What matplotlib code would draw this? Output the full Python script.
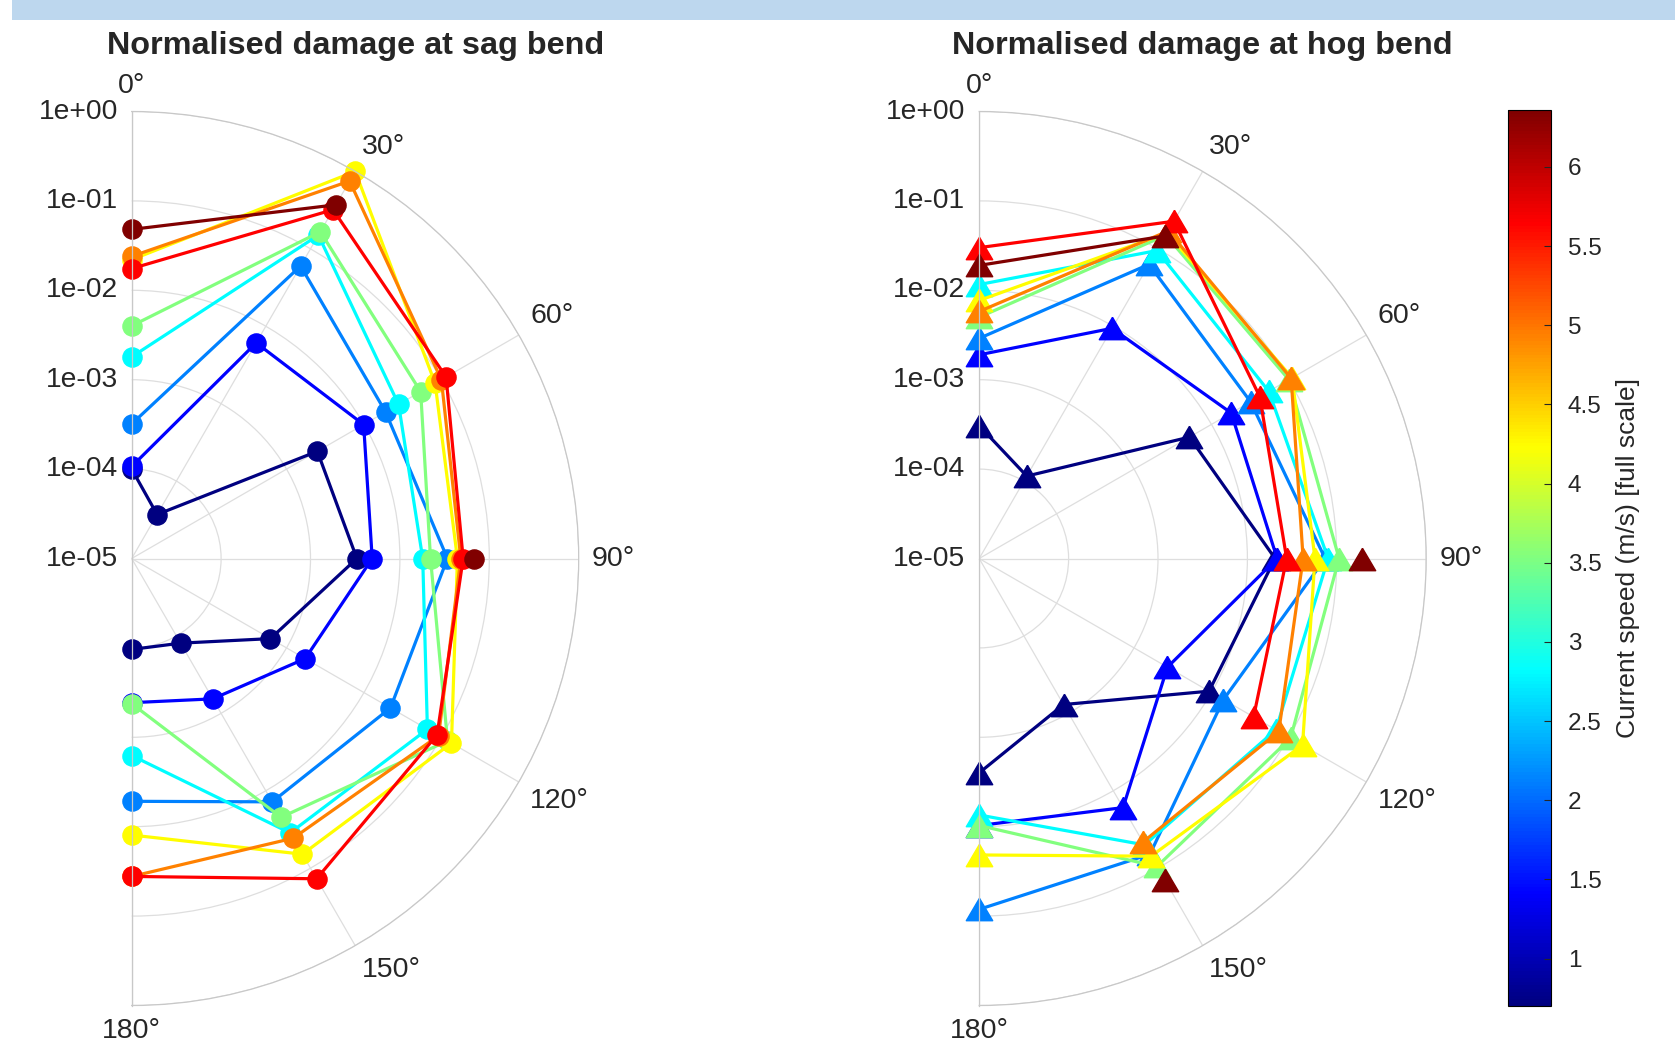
import numpy as np
import matplotlib
matplotlib.use('Agg')
import matplotlib.pyplot as plt
from matplotlib import colors, cm
from matplotlib.patches import Rectangle

plt.rcParams['font.family'] = ['Liberation Sans', 'DejaVu Sans']

nan = np.nan

# wave/current heading (deg) and current speed (m/s, full scale)
headings = [0, 30, 60, 90, 120, 150, 180]
speeds = [0.70, 1.41, 2.12, 2.82, 3.53, 4.24, 4.94, 5.65, 6.36]

# normalised damage at the sag bend, one list per current speed
sag_070 = [1.0e-4, 3.7e-5, 2.5e-3, 3.3e-3, 6.2e-4, 1.24e-4, 1.04e-4]
sag_141 = [1.07e-4, 6.1e-3, 9.9e-3, 4.9e-3, 1.74e-3, 6.5e-4, 4.1e-4]
sag_212 = [3.2e-4, 0.060, 0.019, 0.034, 0.022, 0.0139, 0.0052]
sag_282 = [1.8e-3, 0.15, 0.028, 0.018, 0.066, 0.035, 1.6e-3]
sag_353 = [4.0e-3, 0.166, 0.054, 0.022, 0.12, 0.022, 4.2e-4]
sag_424 = [0.022, 1.0, 0.083, 0.044, 0.135, 0.066, 0.0124]
sag_494 = [0.024, 0.75, 0.10, 0.048, 0.092, 0.041, 0.036]
sag_565 = [0.0175, 0.32, 0.115, 0.051, 0.088, 0.137, 0.036]
sag_636 = [0.048, 0.37, nan, 0.068, nan, nan, nan]

# normalised damage at the hog bend
hog_070 = [3.06e-4, 1.16e-4, 5.2e-3, 0.0204, 9.3e-3, 7.7e-4, 2.5e-3]
hog_141 = [1.9e-3, 9.4e-3, 0.018, 0.0215, 2.7e-3, 0.0165, 9.7e-3]
hog_212 = [2.9e-3, 0.063, 0.032, 0.074, 0.0143, 0.066, 0.084]
hog_282 = [0.0116, 0.095, 0.055, 0.080, 0.068, 0.050, 7.4e-3]
hog_353 = [5.0e-3, 0.15, 0.10, 0.106, 0.105, 0.095, 9.7e-3]
hog_424 = [7.7e-3, 0.16, 0.11, 0.057, 0.15, 0.070, 0.0207]
hog_494 = [5.8e-3, 0.17, 0.107, 0.042, 0.074, 0.046, nan]
hog_565 = [0.030, 0.227, 0.042, 0.0275, 0.035, nan, nan]
hog_636 = [0.019, 0.147, nan, 0.19, nan, 0.14, nan]

sag_rows = [sag_070, sag_141, sag_212, sag_282, sag_353, sag_424, sag_494, sag_565, sag_636]
hog_rows = [hog_070, hog_141, hog_212, hog_282, hog_353, hog_424, hog_494, hog_565, hog_636]

r_levels = [0, -1, -2, -3, -4, -5]
r_labels = ['1e+00', '1e-01', '1e-02', '1e-03', '1e-04', '1e-05']
cbar_ticks = [1, 1.5, 2, 2.5, 3, 3.5, 4, 4.5, 5, 5.5, 6]

W, H = 1675, 1049
fig = plt.figure(figsize=(W / 100, H / 100), dpi=100)
fig.patches.append(Rectangle((12 / W, 1 - 20 / H), 1, 20 / H, transform=fig.transFigure,
                             facecolor='#bdd7ee', edgecolor='none'))

# MATLAB style jet
cmap = colors.LinearSegmentedColormap.from_list('mjet', [
    (0.0, (0, 0, 0.5)), (1 / 8, (0, 0, 1)), (3 / 8, (0, 1, 1)),
    (5 / 8, (1, 1, 0)), (7 / 8, (1, 0, 0)), (1.0, (0.5, 0, 0))], N=256)
norm = colors.Normalize(vmin=min(speeds), vmax=max(speeds))

R = 447.0
tri = [(0, 0.85), (-1, -0.85), (1, -0.85), (0, 0.85)]
txt = '#262626'


def polar_panel(cx, cy, rows, marker, ms, title):
    # square box; the half disc sits in its middle half
    ax = fig.add_axes([(cx - R / 2) / W, 1 - (cy + R) / H, 2 * R / W, 2 * R / H], projection='polar')
    ax.set_theta_zero_location('N')
    ax.set_theta_direction(-1)
    ax.set_thetamin(0)
    ax.set_thetamax(180)
    ax.set_rlim(-5, 0)
    ax.set_yticks(r_levels)
    ax.set_yticklabels([])
    ax.set_thetagrids(headings, [''] * len(headings))
    ax.grid(True, color='#dedede', lw=0.9)
    for s in ax.spines.values():
        s.set_color('#c8c8c8')
        s.set_linewidth(0.9)
    th = np.deg2rad(headings)
    for v, row in zip(speeds, rows):
        c = cmap(norm(v))
        ax.plot(th, np.log10(row), '-', marker=marker, color=c, lw=2.3, ms=ms,
                mec=c, mfc=c, clip_on=False)
    # heading labels, placed the way MATLAB does
    r_lab = 13 / (R / 5)
    for h in headings:
        ha = 'center' if h in (0, 180) else 'left'
        va = 'bottom' if h < 90 else ('center' if h == 90 else 'top')
        ax.text(np.deg2rad(h), r_lab, '%d°' % h, ha=ha, va=va, fontsize=20.5, color=txt)
    for lv, lab in zip(r_levels, r_labels):
        ax.annotate(lab, (0, lv), xytext=(-10, 0), textcoords='offset points',
                    ha='right', va='center', fontsize=20.3, color=txt)
    ax.text(0.5, 1.073, title, transform=ax.transAxes, ha='center', va='center',
            fontsize=23.3, fontweight='bold', color=txt)
    return ax


polar_panel(131.7, 558.5, sag_rows, 'o', 13.8, 'Normalised damage at sag bend')
polar_panel(979.2, 558.5, hog_rows, tri, 19, 'Normalised damage at hog bend')

cax = fig.add_axes([1507.5 / W, 1 - 1006 / H, 43.8 / W, 896 / H])
sm = cm.ScalarMappable(norm=norm, cmap=cmap)
cb = fig.colorbar(sm, cax=cax)
cb.set_ticks(cbar_ticks)
cb.set_ticklabels(['%g' % t for t in cbar_ticks])
cax.tick_params(direction='in', length=5, width=0.8, labelsize=17.5, pad=12, colors=txt)
cb.outline.set_linewidth(0.8)
cb.set_label('Current speed (m/s) [full scale]', fontsize=19, color=txt, labelpad=10)

fig.savefig('out.png', dpi=100)
